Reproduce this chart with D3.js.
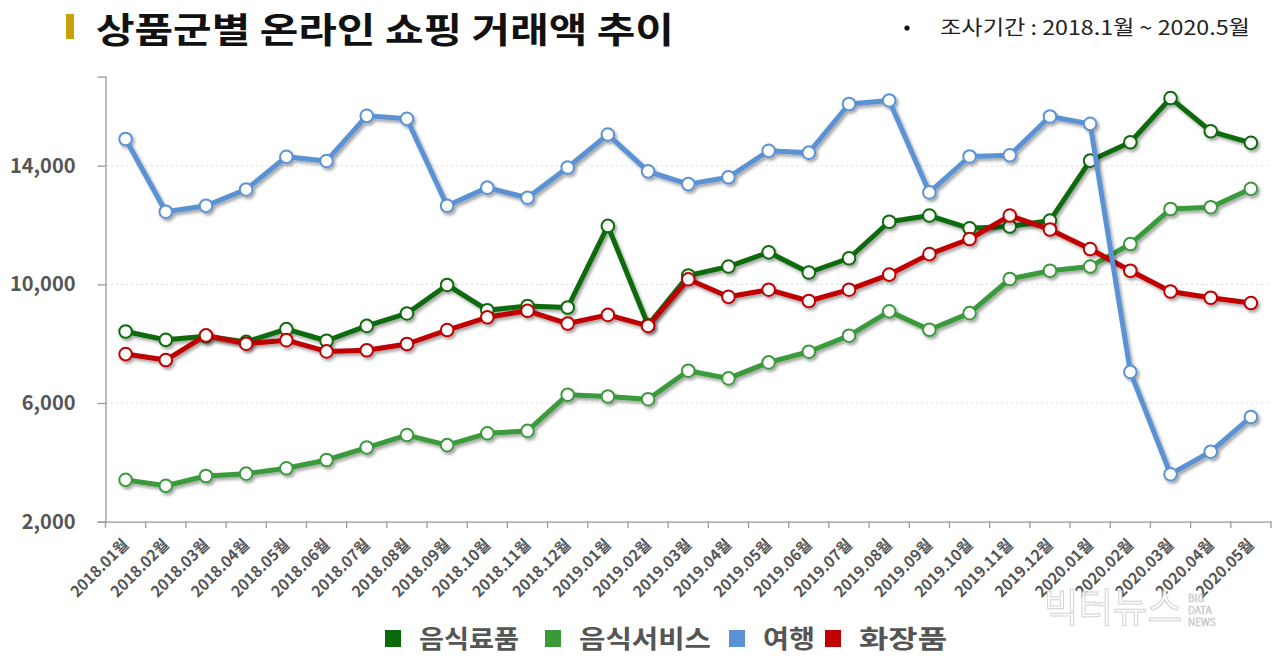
<!DOCTYPE html>
<html><head><meta charset="utf-8">
<script src="https://cdn.jsdelivr.net/npm/d3@7"></script>
<style>
html,body{margin:0;padding:0;background:#fff;}
text{font-family:"Noto Sans CJK KR","Noto Sans",sans-serif;}
</style></head>
<body>
<svg id="c" width="1280" height="659"></svg>
<script>
const months = ["2018.01월","2018.02월","2018.03월","2018.04월","2018.05월","2018.06월","2018.07월","2018.08월","2018.09월","2018.10월","2018.11월","2018.12월","2019.01월","2019.02월","2019.03월","2019.04월","2019.05월","2019.06월","2019.07월","2019.08월","2019.09월","2019.10월","2019.11월","2019.12월","2020.01월","2020.02월","2020.03월","2020.04월","2020.05월"];
const food = [8410,8130,8250,8060,8490,8100,8600,9020,9980,9130,9270,9220,11970,8630,10300,10600,11080,10400,10880,12110,12320,11890,11950,12150,14170,14790,16280,15160,14770];
const foodService = [3410,3210,3540,3620,3800,4080,4500,4920,4580,4980,5060,6280,6220,6130,7090,6830,7370,7730,8270,9090,8470,9030,10180,10460,10600,11360,12540,12600,13220];
const travel = [14900,12450,12650,13200,14300,14160,15680,15580,12650,13260,12920,13940,15050,13810,13380,13610,14500,14440,16080,16200,13100,14310,14350,15660,15410,7050,3600,4360,5530];
const cosmetics = [7650,7450,8280,8000,8120,7740,7780,7990,8460,8890,9110,8680,8970,8600,10170,9580,9820,9440,9820,10330,11020,11530,12320,11850,11190,10460,9760,9550,9370];
const seriesNames = ["음식료품","음식서비스","여행","화장품"];
const seriesColors = ["#0a6a0a","#3a9a3a","#5a92d4","#c00000"];
const yTicks = [2000,6000,10000,14000];
const yDomain = [2000,17000];

const svg = d3.select("#c");
const defs = svg.append("defs");
const f = defs.append("filter").attr("id","sh").attr("x","-20%").attr("y","-20%").attr("width","140%").attr("height","140%");
f.append("feDropShadow").attr("dx",2).attr("dy",2.5).attr("stdDeviation",1.8).attr("flood-color","#000").attr("flood-opacity",0.35);

// Title
svg.append("rect").attr("x",66).attr("y",14).attr("width",8).attr("height",25).attr("fill","#c9a00a");
const tg = svg.append("g");
const tt = tg.append("text").attr("x",0).attr("y",0).attr("font-size",35).attr("font-weight",700).attr("fill","#111")
  .text("상품군별 온라인 쇼핑 거래액 추이");
const tw = tt.node().getComputedTextLength();
tg.attr("transform",`translate(96,43) scale(${578/tw},1)`);

svg.append("circle").attr("cx",907).attr("cy",28).attr("r",2.6).attr("fill","#111");
const ng = svg.append("g");
const nt = ng.append("text").attr("x",0).attr("y",0).attr("font-size",20).attr("fill","#222")
  .text("조사기간 : 2018.1월 ~ 2020.5월");
const nw = nt.node().getComputedTextLength();
ng.attr("transform",`translate(940,35) scale(${310/nw},1)`);

const x = d3.scaleBand().domain(months).range([105.5,1271]);
const y = d3.scaleLinear().domain(yDomain).range([521.7,76.7]);

// grid
svg.append("g").selectAll("line").data(yTicks.slice(1)).join("line")
  .attr("x1",106).attr("x2",1271).attr("y1",d=>y(d)).attr("y2",d=>y(d))
  .attr("stroke","#ddd").attr("stroke-dasharray","2,3");

// y axis
const ya = svg.append("g").attr("transform","translate(105.5,0)")
  .call(d3.axisLeft(y).tickValues(yTicks).tickSize(8).tickPadding(22).tickFormat(d3.format(",")));
ya.select(".domain").attr("stroke","#999").attr("stroke-width",1.3);
ya.selectAll(".tick line").attr("stroke","#999").attr("stroke-width",1.3);
ya.selectAll("text").attr("font-size",20).attr("font-weight",700).attr("fill","#555").attr("font-family","'Noto Sans',sans-serif");

// x axis
const xa = svg.append("g").attr("transform","translate(0,521.7)")
  .call(d3.axisBottom(x).tickSize(0).tickSizeOuter(0));
xa.select(".domain").attr("stroke","#999").attr("stroke-width",1.3);
svg.append("g").selectAll("line").data(months.concat([null])).join("line")
  .attr("x1",(d,i)=>105.5+i*x.step()).attr("x2",(d,i)=>105.5+i*x.step())
  .attr("y1",521.7).attr("y2",528).attr("stroke","#999").attr("stroke-width",1.3);
xa.selectAll("text").attr("font-size",15.5).attr("font-weight",700).attr("fill","#555")
  .attr("text-anchor","end").attr("dy",0).attr("y",0)
  .attr("transform","translate(4,24) rotate(-45)");

// lines
const data = [foodService, food, cosmetics, travel];
const order = [1,0,3,2];
const line = d3.line().x((d,i)=>x(months[i])+x.bandwidth()/2).y(d=>y(d));
order.forEach((si,k)=>{
  const vals = data[k];
  const g = svg.append("g").attr("filter","url(#sh)");
  g.append("path").datum(vals).attr("d",line).attr("fill","none")
    .attr("stroke",seriesColors[si]).attr("stroke-width",5).attr("stroke-linejoin","round");
  g.selectAll("circle").data(vals).join("circle")
    .attr("cx",(d,i)=>x(months[i])+x.bandwidth()/2).attr("cy",d=>y(d)).attr("r",6.3)
    .attr("fill","#fff").attr("stroke",seriesColors[si]).attr("stroke-width",2);
});

// watermark
const wm = svg.append("g").attr("opacity",0.9);
wm.append("text").attr("x",1044).attr("y",622).attr("font-size",40).attr("font-weight",400)
  .attr("fill","#fff").attr("stroke","#ccc").attr("stroke-width",1)
  .attr("textLength",138).attr("lengthAdjust","spacingAndGlyphs").text("빅터뉴스");
["BIG","DATA","NEWS"].forEach((t,i)=>wm.append("text").attr("x",1188).attr("y",602+i*12)
  .attr("font-size",10).attr("fill","#fff").attr("stroke","#bbb").attr("stroke-width",0.6)
  .attr("font-family","'Liberation Sans Narrow','DejaVu Sans Condensed',sans-serif").text(t));

// legend
const legX = [385,545,729,825];
const legW = [100,132,52,88];
const lg = svg.append("g");
seriesNames.forEach((n,i)=>{
  lg.append("rect").attr("x",legX[i]).attr("y",630).attr("width",16).attr("height",17).attr("fill",seriesColors[i]);
  lg.append("text").attr("x",legX[i]+34).attr("y",648).attr("font-size",25).attr("font-weight",700).attr("fill","#555")
    .attr("textLength",legW[i]).attr("lengthAdjust","spacingAndGlyphs").text(n);
});
</script>
</body></html>
